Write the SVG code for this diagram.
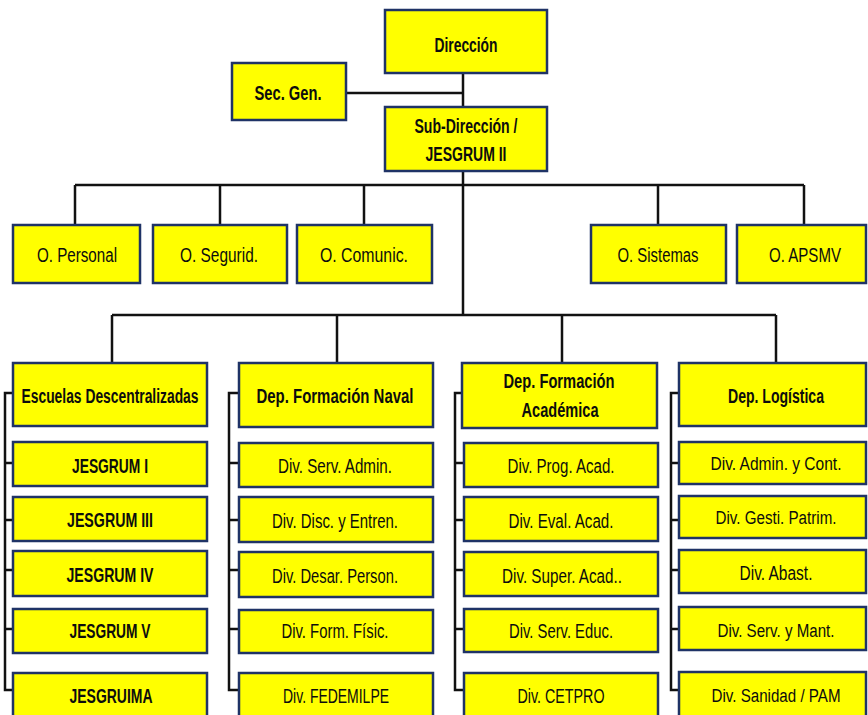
<svg xmlns="http://www.w3.org/2000/svg" width="868" height="715" viewBox="0 0 868 715">
<style>
.box{fill:#FFFF00;stroke:#1F3366;stroke-width:2.5}
.t{font-family:"Liberation Sans",Arial,sans-serif;font-size:20px;fill:#0d0d0d;text-anchor:middle}
.b{font-weight:bold;font-size:20px}
.s{font-size:18px}
.ln{stroke:#111;stroke-width:2.5;fill:none}
</style>
<rect width="868" height="715" fill="#fff"/>
<g id="connectors">
<path class="ln" d="M463 73V315M346 93H463M75 185H804M75 185V225M220 185V225M364 185V225M658 185V225M804 185V225M112 315H776M112 315V363M337 315V363M562 315V363M776 315V363"/>
<path class="ln" d="M13 393H5V690H13M5 463H13M5 520H13M5 570H13M5 629H13"/>
<path class="ln" d="M239 393H229V690H239M229 463H239M229 520H239M229 570H239M229 629H239"/>
<path class="ln" d="M462 393H455V690H464M455 463H464M455 520H464M455 570H464M455 629H464"/>
<path class="ln" d="M679 393H671V690H679M671 463H679M671 520H679M671 570H679M671 629H679"/>
</g>
<g id="direccion"><rect class="box" x="385" y="10" width="162" height="63"/><text class="t b" x="466" y="52" textLength="63" lengthAdjust="spacingAndGlyphs">Dirección</text></g>
<g id="secgen"><rect class="box" x="232" y="63" width="114" height="57"/><text class="t b" x="288" y="100" textLength="67" lengthAdjust="spacingAndGlyphs">Sec. Gen.</text></g>
<g id="subdireccion"><rect class="box" x="385" y="107" width="162" height="64"/><text class="t b" x="466" y="133" textLength="103" lengthAdjust="spacingAndGlyphs">Sub-Dirección /</text><text class="t b" x="466" y="161" textLength="81" lengthAdjust="spacingAndGlyphs">JESGRUM II</text></g>
<g id="o-personal"><rect class="box" x="13" y="225" width="127" height="58"/><text class="t" x="77" y="262" textLength="80" lengthAdjust="spacingAndGlyphs">O. Personal</text></g>
<g id="o-segurid"><rect class="box" x="153" y="225" width="134" height="58"/><text class="t" x="219" y="262" textLength="78" lengthAdjust="spacingAndGlyphs">O. Segurid.</text></g>
<g id="o-comunic"><rect class="box" x="297" y="225" width="135" height="58"/><text class="t" x="364" y="262" textLength="88" lengthAdjust="spacingAndGlyphs">O. Comunic.</text></g>
<g id="o-sistemas"><rect class="box" x="591" y="225" width="135" height="58"/><text class="t" x="658" y="262" textLength="81" lengthAdjust="spacingAndGlyphs">O. Sistemas</text></g>
<g id="o-apsmv"><rect class="box" x="737" y="225" width="129" height="58"/><text class="t" x="805" y="262" textLength="72" lengthAdjust="spacingAndGlyphs">O. APSMV</text></g>
<g id="escuelas"><rect class="box" x="13" y="363" width="194" height="63"/><text class="t b" x="110" y="403" textLength="177" lengthAdjust="spacingAndGlyphs">Escuelas Descentralizadas</text></g>
<g id="jesgrum1"><rect class="box" x="13" y="442" width="194" height="44"/><text class="t b" x="110" y="473" textLength="76" lengthAdjust="spacingAndGlyphs">JESGRUM I</text></g>
<g id="jesgrum3"><rect class="box" x="13" y="497" width="194" height="44"/><text class="t b" x="110" y="527" textLength="86" lengthAdjust="spacingAndGlyphs">JESGRUM III</text></g>
<g id="jesgrum4"><rect class="box" x="13" y="551" width="194" height="45"/><text class="t b" x="110" y="582" textLength="87" lengthAdjust="spacingAndGlyphs">JESGRUM IV</text></g>
<g id="jesgrum5"><rect class="box" x="13" y="609" width="194" height="44"/><text class="t b" x="110" y="638" textLength="81" lengthAdjust="spacingAndGlyphs">JESGRUM V</text></g>
<g id="jesgruima"><rect class="box" x="13" y="673" width="194" height="50"/><text class="t b" x="111" y="703" textLength="83" lengthAdjust="spacingAndGlyphs">JESGRUIMA</text></g>
<g id="dep-naval"><rect class="box" x="239" y="363" width="194" height="64"/><text class="t b" x="335" y="403" textLength="157" lengthAdjust="spacingAndGlyphs">Dep. Formación Naval</text></g>
<g id="div-serv-admin"><rect class="box" x="239" y="443" width="194" height="44"/><text class="t" x="335" y="473" textLength="114" lengthAdjust="spacingAndGlyphs">Div. Serv. Admin.</text></g>
<g id="div-disc"><rect class="box" x="239" y="497" width="194" height="45"/><text class="t" x="335" y="528" textLength="126" lengthAdjust="spacingAndGlyphs">Div. Disc. y Entren.</text></g>
<g id="div-desar"><rect class="box" x="239" y="552" width="194" height="45"/><text class="t" x="335" y="583" textLength="126" lengthAdjust="spacingAndGlyphs">Div. Desar. Person.</text></g>
<g id="div-form"><rect class="box" x="239" y="610" width="194" height="43"/><text class="t" x="335" y="638" textLength="107" lengthAdjust="spacingAndGlyphs">Div. Form. Físic.</text></g>
<g id="div-fedemilpe"><rect class="box" x="239" y="673" width="194" height="50"/><text class="t" x="336" y="703" textLength="106" lengthAdjust="spacingAndGlyphs">Div. FEDEMILPE</text></g>
<g id="dep-academica"><rect class="box" x="462" y="363" width="195" height="65"/><text class="t b" x="559" y="388" textLength="111" lengthAdjust="spacingAndGlyphs">Dep. Formación</text><text class="t b" x="560" y="417" textLength="77" lengthAdjust="spacingAndGlyphs">Académica</text></g>
<g id="div-prog"><rect class="box" x="464" y="443" width="194" height="44"/><text class="t" x="561" y="473" textLength="107" lengthAdjust="spacingAndGlyphs">Div. Prog. Acad.</text></g>
<g id="div-eval"><rect class="box" x="464" y="497" width="194" height="44"/><text class="t" x="561" y="528" textLength="105" lengthAdjust="spacingAndGlyphs">Div. Eval. Acad.</text></g>
<g id="div-super"><rect class="box" x="464" y="552" width="194" height="44"/><text class="t" x="562" y="583" textLength="120" lengthAdjust="spacingAndGlyphs">Div. Super. Acad..</text></g>
<g id="div-serv-educ"><rect class="box" x="464" y="609" width="194" height="43"/><text class="t" x="561" y="638" textLength="104" lengthAdjust="spacingAndGlyphs">Div. Serv. Educ.</text></g>
<g id="div-cetpro"><rect class="box" x="464" y="673" width="194" height="50"/><text class="t" x="561" y="703" textLength="87" lengthAdjust="spacingAndGlyphs">Div. CETPRO</text></g>
<g id="dep-logistica"><rect class="box" x="679" y="363" width="187" height="63"/><text class="t b" x="776" y="403" textLength="96" lengthAdjust="spacingAndGlyphs">Dep. Logística</text></g>
<g id="div-admin-cont"><rect class="box" x="679" y="442" width="187" height="42"/><text class="t s" x="776" y="470" textLength="131" lengthAdjust="spacingAndGlyphs">Div. Admin. y Cont.</text></g>
<g id="div-gesti"><rect class="box" x="679" y="496" width="187" height="42"/><text class="t s" x="776" y="524" textLength="121" lengthAdjust="spacingAndGlyphs">Div. Gesti. Patrim.</text></g>
<g id="div-abast"><rect class="box" x="679" y="550" width="187" height="43"/><text class="t" x="776" y="580" textLength="73" lengthAdjust="spacingAndGlyphs">Div. Abast.</text></g>
<g id="div-serv-mant"><rect class="box" x="679" y="607" width="187" height="43"/><text class="t s" x="776" y="637" textLength="117" lengthAdjust="spacingAndGlyphs">Div. Serv. y Mant.</text></g>
<g id="div-sanidad"><rect class="box" x="679" y="672" width="187" height="50"/><text class="t s" x="776" y="702" textLength="129" lengthAdjust="spacingAndGlyphs">Div. Sanidad / PAM</text></g>
</svg>
